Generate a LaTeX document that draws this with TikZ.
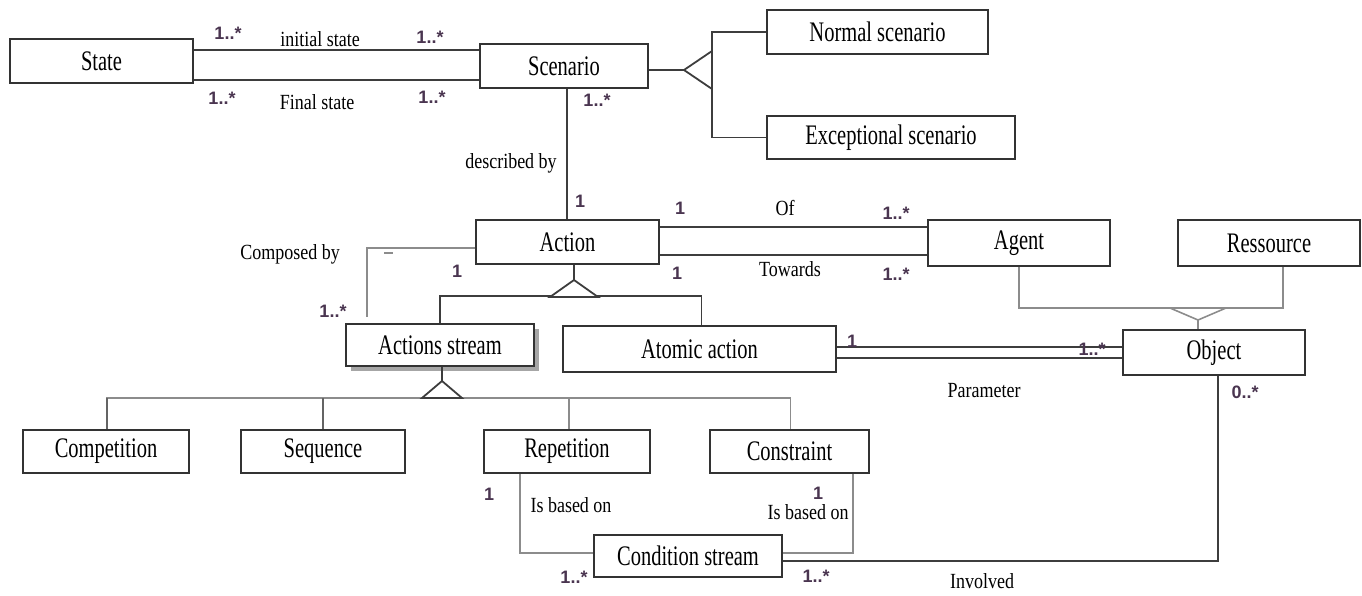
\documentclass[tikz,border=0pt]{standalone}
\usepackage{fontspec}
\usepackage{graphicx}
\setmainfont{Liberation Serif}
\newfontfamily\multfont{Liberation Sans}
\newcommand{\stretchtxt}[1]{\scalebox{1}[1.38]{#1}}
\newcommand{\stretchlab}[1]{\scalebox{1}[1.2]{#1}}
\definecolor{boxc}{HTML}{333333}
\definecolor{darkln}{HTML}{3D3D3D}
\definecolor{grayln}{HTML}{8C8C8C}
\definecolor{multc}{HTML}{4A3550}
\tikzset{
  cls/.style={draw=boxc, line width=1.7pt, fill=white, inner sep=0pt,
    font=\fontsize{20.5}{22}\selectfont},
  dk/.style={draw=darkln, line width=1.8pt},
  gy/.style={draw=grayln, line width=1.6pt},
  mult/.style={text=multc, inner sep=0pt, font=\multfont\bfseries\fontsize{18}{19}\selectfont},
  role/.style={inner sep=0pt, font=\fontsize{18}{20}\selectfont}
}
\begin{document}
\begin{tikzpicture}[x=1pt,y=-1pt]
\useasboundingbox (0,0) rectangle (1362,595);
% classes
\node[cls, minimum width=183pt, minimum height=44pt] (state) at (101.5,61) {\stretchtxt{State}};
\node[cls, minimum width=168pt, minimum height=44pt] (scen) at (564,66) {\stretchtxt{Scenario}};
\node[cls, minimum width=221pt, minimum height=44pt] (normal) at (877.5,32) {\stretchtxt{Normal scenario}};
\node[cls, minimum width=248pt, minimum height=43pt] (except) at (891,137.5) {\stretchtxt{Exceptional scenario}};
\node[cls, minimum width=183pt, minimum height=44pt] (action) at (567.5,242) {\stretchtxt{Action}};
\node[cls, minimum width=182pt, minimum height=46pt] (agent) at (1019,243) {\stretchtxt{Agent}};
\node[cls, minimum width=182pt, minimum height=46pt] (ress) at (1269,243) {\stretchtxt{Ressource}};
\fill[black!35] (351,329) rectangle (539,371);
\node[cls, minimum width=188pt, minimum height=42pt] (astream) at (440,345) {\stretchtxt{Actions stream}};
\node[cls, minimum width=273pt, minimum height=46pt] (atomic) at (699.5,349) {\stretchtxt{Atomic action}};
\node[cls, minimum width=182pt, minimum height=45pt] (object) at (1214,352.5) {\stretchtxt{Object}};
\node[cls, minimum width=166pt, minimum height=43pt] (comp) at (106,451.5) {\stretchtxt{Competition}};
\node[cls, minimum width=164pt, minimum height=43pt] (seq) at (323,451.5) {\stretchtxt{Sequence}};
\node[cls, minimum width=166pt, minimum height=43pt] (rep) at (567,451.5) {\stretchtxt{Repetition}};
\node[cls, minimum width=159pt, minimum height=43pt] (constr) at (789.5,451.5) {\stretchtxt{Constraint}};
\node[cls, minimum width=188pt, minimum height=42pt] (cond) at (688,556) {\stretchtxt{Condition stream}};

% State -- Scenario
\draw[dk] ([yshift=11pt]state.east) -- ([yshift=11pt]state.east -| scen.west);
\draw[dk] ([yshift=-19pt]state.east) -- ([yshift=-19pt]state.east -| scen.west);

% Scenario generalization
\coordinate (sgTip) at (684,70);
\coordinate (sgTop) at (712,51);
\coordinate (sgBot) at (712,89);
\draw[dk] ([yshift=-4pt]scen.east) -- (sgTip);
\draw[dk] (sgTip) -- (sgTop) -- (sgBot) -- cycle;
\draw[dk] (normal.west) -| (sgTop);
\draw[dk] (except.west) -| (sgBot);

% Scenario -- Action
\draw[dk] ([xshift=-0.5pt]action.north) -- ([xshift=-0.5pt]action.north |- scen.south);

% Action -- Agent
\draw[dk] ([yshift=15pt]action.east) -- ([yshift=15pt]action.east -| agent.west);
\draw[dk] ([yshift=-13pt]action.east) -- ([yshift=-13pt]action.east -| agent.west);

% Composed by
\draw[gy] ([yshift=-6pt]action.west) -| ([xshift=22pt,yshift=6pt]astream.north west);
\draw[grayln, line width=1.2pt] (384,253) -- (393,253);

% Action generalization
\coordinate (agTip) at (574,280);
\coordinate (agBase) at (574,296);
\draw[dk] (agTip) -- (agTip |- action.south);
\draw[dk] (astream.north) |- (agBase) -| ([xshift=2pt]atomic.north);
\draw[dk, fill=white] (agTip) -- (550,297) -- (598,297) -- cycle;

% Actions stream generalization
\coordinate (asTip) at (442,381);
\coordinate (asBase) at (442,398);
\draw[dk] (asTip) -- (asTip |- astream.south);
\draw[gy] ([xshift=1pt]comp.north) |- (asBase) -| ([xshift=1pt]constr.north);
\draw[darkln!80, line width=1.6pt] ([xshift=1pt]comp.north) -- ([xshift=1pt]comp.north |- asBase);
\draw[darkln!80, line width=1.6pt] (seq.north) -- (seq.north |- asBase);
\draw[gy] ([xshift=2pt]rep.north) -- ([xshift=2pt]rep.north |- asBase);
\draw[dk, fill=white] (asTip) -- (422,398) -- (462,398) -- cycle;

% Atomic action -- Object
\draw[dk] ([yshift=2pt]atomic.east) -- ([yshift=2pt]atomic.east -| object.west);
\draw[dk] ([yshift=-9pt]atomic.east) -- ([yshift=-9pt]atomic.east -| object.west);

% Agent / Ressource -- Object
\coordinate (orTip) at (1198,320);
\coordinate (orBase) at (1198,308);
\draw[gy] (agent.south) |- (orBase) -| ([xshift=14pt]ress.south);
\draw[gy] (1170,308) -- (orTip) -- (1226,308);
\draw[gy] (orTip) -- (orTip |- object.north);

% Object -- Condition stream
\draw[dk] ([xshift=4pt]object.south) |- ([yshift=-5pt]cond.east);
% Constraint -- Condition stream
\draw[gy] ([xshift=63.5pt]constr.south) |- ([yshift=3pt]cond.east);
% Repetition -- Condition stream
\draw[gy] ([xshift=-47pt]rep.south) |- ([yshift=3pt]cond.west);

% multiplicities
\node[mult] (m1) at (228,33) {1..*};
\node[mult] (m2) at (430,37) {1..*};
\node[mult] (m3) at (222,98) {1..*};
\node[mult] (m4) at (432,97) {1..*};
\node[mult] (m5) at (597,100) {1..*};
\node[mult] (m6) at (580,201) {1};
\node[mult] (m7) at (680,208) {1};
\node[mult] (m8) at (896,213) {1..*};
\node[mult] (m9) at (677,273) {1};
\node[mult] (m10) at (896,274) {1..*};
\node[mult] (m11) at (457,271) {1};
\node[mult] (m12) at (333,311) {1..*};
\node[mult] (m13) at (852,341) {1};
\node[mult] (m14) at (1092,349) {1..*};
\node[mult] (m15) at (1245,392) {0..*};
\node[mult] (m16) at (818,493) {1};
\node[mult] (m17) at (489,494) {1};
\node[mult] (m18) at (574,577) {1..*};
\node[mult] (m19) at (816,576) {1..*};

% role labels
\node[role] (r1) at (320,39) {\stretchlab{initial state}};
\node[role] (r2) at (317,102) {\stretchlab{Final state}};
\node[role] (r3) at (511,163) {\stretchlab{described by}};
\node[role] (r4) at (785,208) {\stretchlab{Of}};
\node[role] (r5) at (790,269) {\stretchlab{Towards}};
\node[role] (r6) at (290,254) {\stretchlab{Composed by}};
\node[role] (r7) at (984,391) {\stretchlab{Parameter}};
\node[role] (r8) at (571,505) {\stretchlab{Is based on}};
\node[role] (r9) at (808,512) {\stretchlab{Is based on}};
\node[role] (r10) at (982,581) {\stretchlab{Involved}};
\end{tikzpicture}
\end{document}
